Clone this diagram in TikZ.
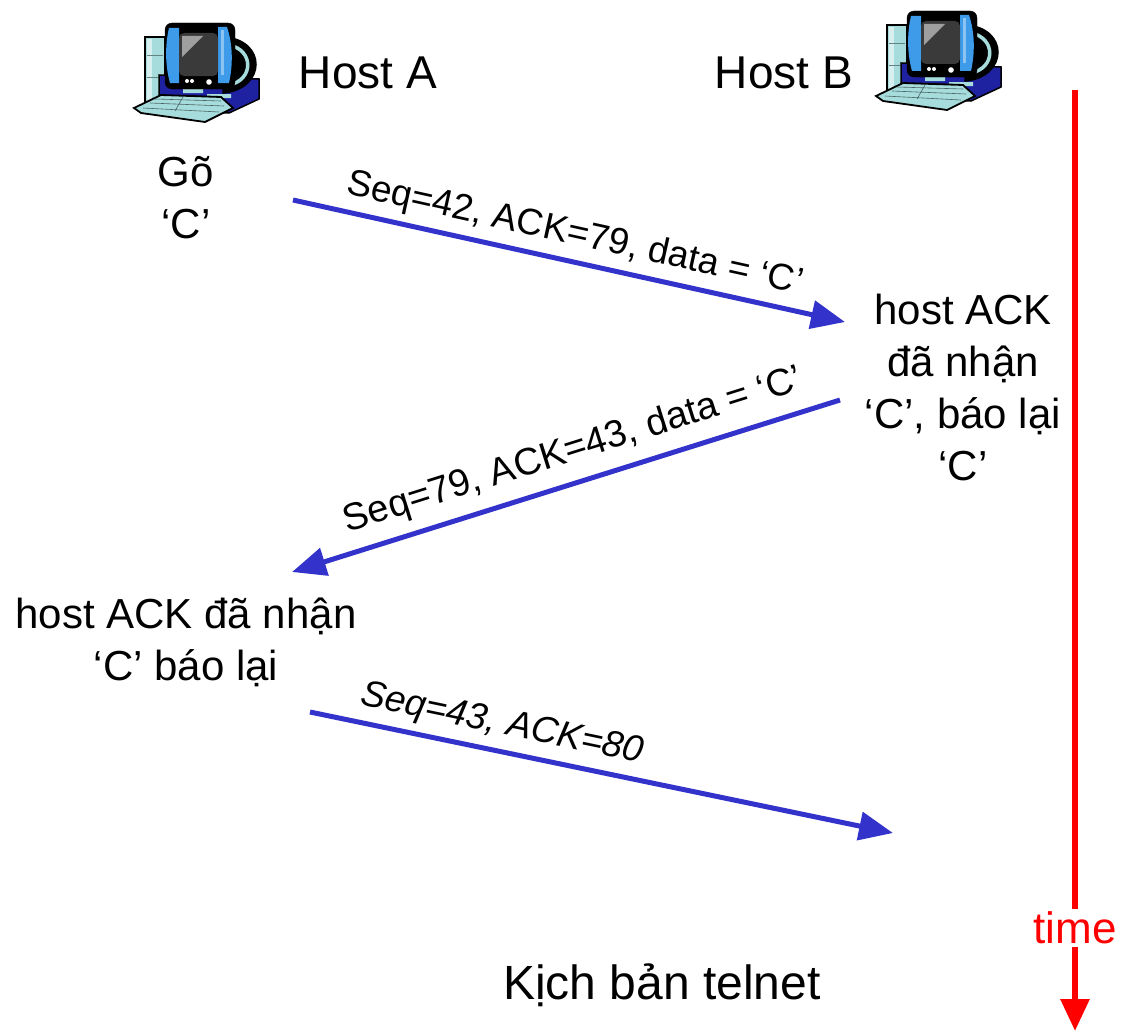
\documentclass[tikz,border=0pt]{standalone}
\usepackage{fontspec}
\setmainfont{Liberation Sans}
\usepackage{xcolor}
\usetikzlibrary{arrows.meta}

\definecolor{msgblue}{RGB}{51,51,204}
\definecolor{pcteal}{RGB}{166,220,220}
\definecolor{pcblue}{RGB}{61,155,233}
\definecolor{pcnavy}{RGB}{30,34,160}
\definecolor{pcscreen}{RGB}{58,58,58}

\begin{document}
\begin{tikzpicture}[x=1pt,y=-1pt,
  msg/.style={draw=msgblue,line width=5pt,-{Triangle[length=34pt,width=28pt]}},
  seq/.style={font=\fontsize{37}{44}\selectfont,sloped,above,inner sep=7pt},
  seqit/.style={seq,font=\fontsize{37}{44}\selectfont\itshape},
  note/.style={align=center,font=\fontsize{42}{52}\selectfont,inner sep=0pt},
  host/.style={font=\fontsize{46}{52}\selectfont,inner sep=0pt},
  computer/.pic={
    % tower
    \draw[fill=pcteal,line width=1.5pt] (0,12) rectangle (20,77);
    \fill[white!55!pcteal] (2,14) rectangle (7,75);
    \draw[pcteal!60!black,line width=0.8pt] (2,30) -- (18,30) (2,52) -- (18,52);
    % base
    \draw[fill=pcnavy,line width=1.5pt] (14,50) -- (114,54) -- (114,74) -- (84,88) -- (14,86) -- cycle;
    \fill[pcteal] (38,64) rectangle (58,68) (62,69) rectangle (86,73);
    % tube
    \filldraw[line width=1.5pt] (78,12) .. controls (122,14) and (122,64) .. (78,68) -- cycle;
    \draw[pcteal,line width=3.5pt] (84,20) .. controls (109,25) and (109,55) .. (84,60);
    % front of the monitor
    \filldraw[rounded corners=7pt] (20,-2) rectangle (90,64);
    \fill[pcblue] (24,3) .. controls (20,20) and (20,40) .. (25,58) -- (34,58) -- (34,3) -- cycle;
    \fill[pcblue] (73,2) -- (82,2) .. controls (88,20) and (88,40) .. (84,58) -- (73,58) -- cycle;
    \fill[white!40!pcblue] (76,5) rectangle (79,50);
    \fill[pcscreen,rounded corners=5pt] (34,8) rectangle (73,51);
    \fill[gray!75] (37,11) -- (58,11) -- (37,32) -- cycle;
    \fill[white] (42,56) circle (2pt) (47,56) circle (2pt) (64,57) circle (2.8pt);
    % keyboard
    \draw[fill=pcteal,line width=1.8pt] (-11,83) -- (16,70) -- (76,72) -- (88,83) -- (60,97) -- (-4,88) -- cycle;
    \draw[pcteal!45!black,line width=0.6pt] (-2,83) -- (74,87) (5,78) -- (79,81) (10,74) -- (76,76) (30,86) -- (38,72);
  }]
  \useasboundingbox (0,0) rectangle (1132,1033);

  % the two hosts
  \pic at (145,25) {computer};
  \pic at (887,13) {computer};
  \node[host] (hostA) at (368,73) {Host A};
  \node[host] (hostB) at (784,73) {Host B};

  % time axis
  \coordinate (t0) at (1075,90);
  \coordinate (t1) at (1075,1031);
  \draw[red,line width=6pt,-{Triangle[length=32pt,width=28pt]}] (t0) -- (t1);
  \node[text=red,fill=white,font=\fontsize{44}{50}\selectfont,inner sep=3pt] (time) at (1075,928) {time};

  % what each side does
  \node[note] (typeC) at (186,198) {Gõ\\‘C’};
  \node[note] (ackB) at (963,387) {host ACK\\đã nhận\\‘C’, báo lại\\‘C’};
  \node[note] (ackA) at (186,642) {host ACK đã nhận\\‘C’ báo lại};

  % segments
  \coordinate (a1) at (293,200); \coordinate (b1) at (845,322);
  \coordinate (b2) at (840,400); \coordinate (a2) at (292,572);
  \coordinate (a3) at (310,712); \coordinate (b3) at (893,833);
  \draw[msg] (a1) -- node[seq] {Seq=42, ACK=79, data = ‘C’} (b1);
  \draw[msg] (b2) -- node[seq,pos=0.47,inner sep=11pt,font=\fontsize{38}{44}\selectfont] {Seq=79, ACK=43, data = ‘C’} (a2);
  \draw[msg] (a3) -- node[seqit,pos=0.32] {Seq=43, ACK=80} (b3);

  \node[font=\fontsize{48}{54}\selectfont] (caption) at (662,985) {Kịch bản telnet};
\end{tikzpicture}
\end{document}
